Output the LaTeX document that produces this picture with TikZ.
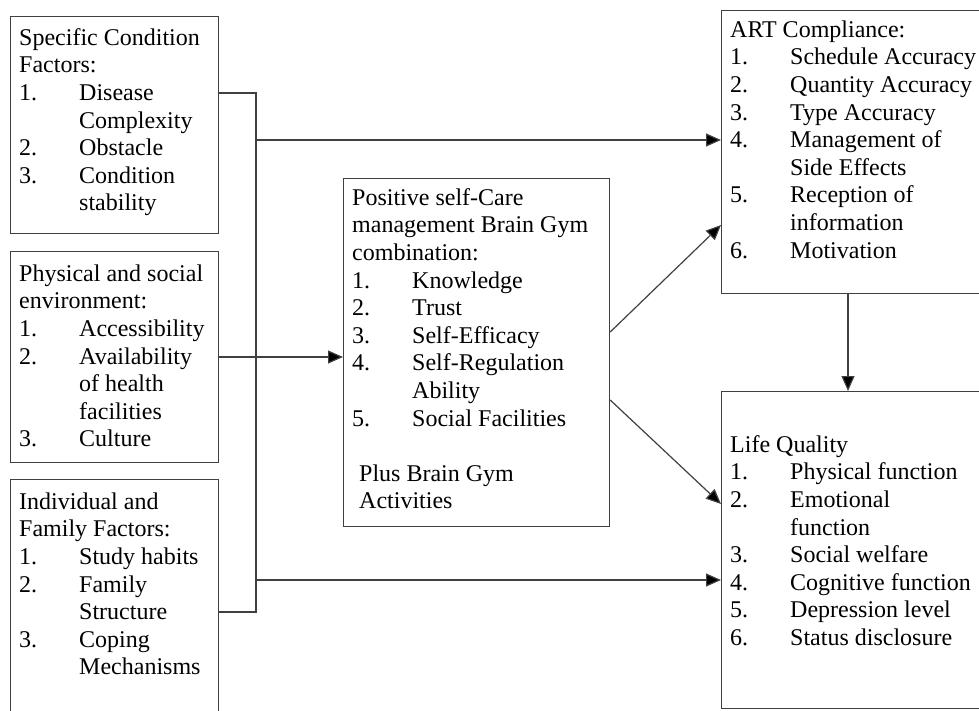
\documentclass[tikz,border=0pt]{standalone}
\usepackage{fontspec}
\setmainfont{Liberation Serif}
\usetikzlibrary{arrows.meta}
\definecolor{linec}{gray}{0.25}
\newcommand\lstitem[1]{\makebox[60pt][l]{#1}}
\newcommand\lstcont{\hspace*{60pt}}
\begin{document}
\begin{tikzpicture}[x=1pt,y=-1pt,
  box/.style={draw=linec, line width=1.2pt, rectangle, inner sep=0pt, anchor=north west},
  txt/.style={anchor=north west, inner sep=0pt, align=left, font=\fontsize{24}{27.6}\selectfont},
  conn/.style={draw=linec, line width=1.2pt},
  arr/.style={conn, -{Triangle[length=15pt,width=13pt,fill=black]}}]
\useasboundingbox (0,0) rectangle (979,710);

% boxes
\node[box, minimum width=208pt, minimum height=217pt] (A) at (10,16) {};
\node[box, minimum width=208pt, minimum height=211pt] (B) at (10,251) {};
\node[box, minimum width=208pt, minimum height=240pt] (C) at (10,479) {};
\node[box, minimum width=266pt, minimum height=348pt] (M) at (343,178) {};
\node[box, minimum width=270pt, minimum height=283pt] (ART) at (721,10) {};
\node[box, minimum width=270pt, minimum height=317pt] (LQ) at (721,391) {};

% texts
\node[txt] (tA) at (19,27) {\rule{0pt}{18pt}Specific Condition\\
Factors:\\
\lstitem{1.}Disease\\
\lstcont Complexity\\
\lstitem{2.}Obstacle\\
\lstitem{3.}Condition\\
\lstcont stability};

\node[txt] (tB) at (19,263) {\rule{0pt}{18pt}Physical and social\\
environment:\\
\lstitem{1.}Accessibility\\
\lstitem{2.}Availability\\
\lstcont of health\\
\lstcont facilities\\
\lstitem{3.}Culture};

\node[txt] (tC) at (19,491) {\rule{0pt}{18pt}Individual and\\
Family Factors:\\
\lstitem{1.}Study habits\\
\lstitem{2.}Family\\
\lstcont Structure\\
\lstitem{3.}Coping\\
\lstcont Mechanisms};

\node[txt] (tM) at (352,187) {\rule{0pt}{18pt}Positive self-Care\\
management Brain Gym\\
combination:\\
\lstitem{1.}Knowledge\\
\lstitem{2.}Trust\\
\lstitem{3.}Self-Efficacy\\
\lstitem{4.}Self-Regulation\\
\lstcont Ability\\
\lstitem{5.}Social Facilities\\[27.6pt]
\hspace*{7pt}Plus Brain Gym\\
\hspace*{7pt}Activities};

\node[txt] (tART) at (730,19) {\rule{0pt}{18pt}ART Compliance:\\
\lstitem{1.}Schedule Accuracy\\
\lstitem{2.}Quantity Accuracy\\
\lstitem{3.}Type Accuracy\\
\lstitem{4.}Management of\\
\lstcont Side Effects\\
\lstitem{5.}Reception of\\
\lstcont information\\
\lstitem{6.}Motivation};

\node[txt] (tLQ) at (730,434) {\rule{0pt}{18pt}Life Quality\\
\lstitem{1.}Physical function\\
\lstitem{2.}Emotional\\
\lstcont function\\
\lstitem{3.}Social welfare\\
\lstitem{4.}Cognitive function\\
\lstitem{5.}Depression level\\
\lstitem{6.}Status disclosure};

% junction points
\coordinate (jA) at (256,93);
\coordinate (jC) at (256,612);
\coordinate (j1) at (256,140);
\coordinate (j2) at (256,580);
\coordinate (hB) at (0,357);
\coordinate (mU) at (0,332);
\coordinate (aU) at (0,225);
\coordinate (mL) at (0,400);
\coordinate (aL) at (0,504);
\coordinate (vx) at (848,0);

% connectors
\draw[conn] (A.east |- jA) -- (jA) -- (jC) -- (C.east |- jC);
\draw[arr] (j1) -- (ART.west |- j1);
\draw[arr] (j2) -- (LQ.west |- j2);
\draw[arr] (B.east |- hB) -- (M.west |- hB);
\draw[arr] (M.east |- mU) -- (ART.west |- aU);
\draw[arr] (M.east |- mL) -- (LQ.west |- aL);
\draw[arr] (ART.south -| vx) -- (LQ.north -| vx);
\end{tikzpicture}
\end{document}
